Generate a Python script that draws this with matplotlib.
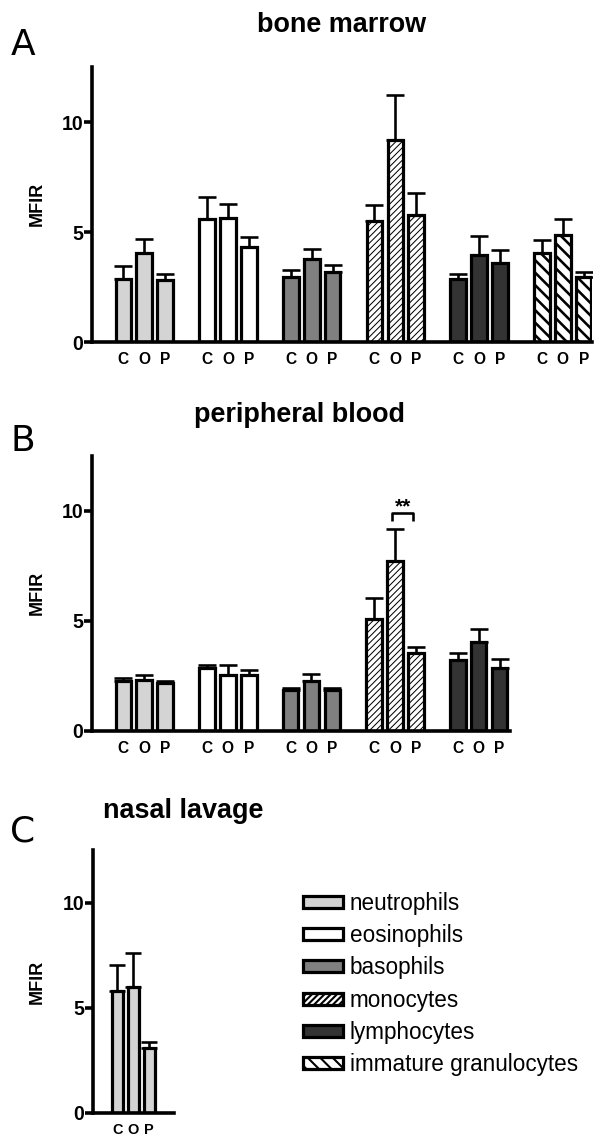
import matplotlib
matplotlib.use('Agg')
import matplotlib.pyplot as plt
from matplotlib.patches import Patch

DPI = 150
W, H = 600, 1144


def pt(px):
    return px * 72.0 / DPI


plt.rcParams['font.family'] = ['Liberation Sans', 'DejaVu Sans']
plt.rcParams['hatch.color'] = 'black'

# ---------------- data ----------------
cell_types = ['neutrophils', 'eosinophils', 'basophils', 'monocytes',
              'lymphocytes', 'immature granulocytes']
conditions = ['C', 'O', 'P']

# bone marrow (mean, upper error)
bm_mean = [[2.88, 4.05, 2.80], [5.60, 5.65, 4.30], [2.97, 3.77, 3.18],
           [5.48, 9.17, 5.76], [2.85, 3.97, 3.60], [4.05, 4.88, 2.94]]
bm_err = [[0.57, 0.63, 0.28], [1.00, 0.64, 0.47], [0.32, 0.44, 0.34],
          [0.73, 2.04, 1.03], [0.23, 0.83, 0.60], [0.60, 0.72, 0.23]]
# peripheral blood
pb_mean = [[2.29, 2.31, 2.18], [2.85, 2.56, 2.53], [1.88, 2.29, 1.88],
           [5.07, 7.71, 3.56], [3.21, 4.06, 2.85]]
pb_err = [[0.12, 0.22, 0.11], [0.14, 0.43, 0.26], [0.07, 0.32, 0.07],
          [0.98, 1.48, 0.24], [0.32, 0.58, 0.43]]
# nasal lavage (neutrophils only)
nl_mean = [[5.78, 5.98, 3.08]]
nl_err = [[1.25, 1.61, 0.30]]

face_colors = ['#d4d4d4', '#ffffff', '#808080', '#ffffff', '#333333', '#ffffff']
hatches = [None, None, None, '////////', None, '\\\\\\\\']
hatch_lw = [pt(1), pt(1), pt(1), pt(1.0), pt(1), pt(2.6)]

EDGE_LW = pt(3.2)
SPINE_LW = pt(3.6)


def make_bar(ax, x, h, w, k):
    with plt.rc_context({'hatch.linewidth': hatch_lw[k]}):
        bars = ax.bar(x, h, width=w, color=face_colors[k], edgecolor='black',
                      linewidth=EDGE_LW, hatch=hatches[k], zorder=2)
    for b in bars:
        if hasattr(b, 'set_hatch_linewidth'):
            b.set_hatch_linewidth(hatch_lw[k])
    return bars


def draw_panel(rect, means, errs, bar_w, xlim, tick_fs, cap_px):
    l, t, r, b = rect
    ax = fig.add_axes([l / W, 1 - b / H, (r - l) / W, (b - t) / H])
    xs, labels = [], []
    for g, (m, e) in enumerate(zip(means, errs)):
        pos = [g * 4 + j for j in range(3)]
        make_bar(ax, pos, m, bar_w, g)
        ax.errorbar(pos, m, yerr=[[0] * 3, e], fmt='none', ecolor='black',
                    elinewidth=pt(2.6), capsize=pt(cap_px), capthick=pt(2.6),
                    zorder=1.5)
        xs += pos
        labels += conditions
    ax.set_xlim(*xlim)
    ax.set_ylim(0, 12.5)
    for s in ['top', 'right']:
        ax.spines[s].set_visible(False)
    for s in ['left', 'bottom']:
        ax.spines[s].set_linewidth(SPINE_LW)
    ax.set_yticks([0, 5, 10])
    ax.set_yticklabels(['0', '5', '10'], fontsize=pt(19.5), fontweight='bold')
    ax.tick_params(axis='y', length=pt(8), width=SPINE_LW, pad=pt(1))
    ax.set_xticks(xs)
    ax.set_xticklabels(labels, fontsize=tick_fs, fontweight='bold')
    ax.tick_params(axis='x', length=0, pad=pt(10))
    return ax


fig = plt.figure(figsize=(W / DPI, H / DPI), dpi=DPI)

# Panel A
axA = draw_panel((92, 67, 592, 342), bm_mean, bm_err, 0.75, (-1.5, 22.4), pt(15.5), 9)
# Panel B
axB = draw_panel((92, 456, 510, 731), pb_mean, pb_err, 0.75, (-1.5, 18.5), pt(15.5), 9)
# Panel C
axC = draw_panel((93, 850, 174, 1113), nl_mean, nl_err, 0.68, (-1.5, 3.53), pt(14.5), 8)

# significance bracket in panel B (monocytes O vs P)
axB.plot([12.85, 12.85, 13.85, 13.85], [9.55, 9.9, 9.9, 9.55], color='black',
         lw=pt(2.6), solid_capstyle='butt', zorder=3, clip_on=False)
axB.text(13.38, 10.2, '**', ha='center', va='center', fontsize=pt(21),
         fontweight='bold')

# y labels
for yc in (204, 593, 982):
    fig.text(37 / W, 1 - yc / H, 'MFIR', rotation=90, ha='center', va='center',
             fontsize=pt(18), fontweight='bold')

# titles
fig.text(342 / W, 1 - 25 / H, 'bone marrow', ha='center', va='center',
         fontsize=pt(27), fontweight='bold')
fig.text(300 / W, 1 - 415 / H, 'peripheral blood', ha='center', va='center',
         fontsize=pt(27), fontweight='bold')
fig.text(183 / W, 1 - 811 / H, 'nasal lavage', ha='center', va='center',
         fontsize=pt(27), fontweight='bold')

# panel letters
for letter, yc in (('A', 45), ('B', 441), ('C', 832)):
    fig.text(23 / W, 1 - yc / H, letter, ha='center', va='center',
             fontsize=pt(36), family='DejaVu Sans')

# legend
handles = []
for k, name in enumerate(cell_types):
    with plt.rc_context({'hatch.linewidth': hatch_lw[k]}):
        p = Patch(facecolor=face_colors[k], edgecolor='black', linewidth=EDGE_LW,
                  hatch=hatches[k], label=name)
    handles.append(p)
LFS = 22.5
fig.legend(handles=handles, loc='upper left', bbox_to_anchor=(303 / W, 1 - 892 / H),
           frameon=False, fontsize=pt(LFS), handlelength=40 / LFS,
           handleheight=10 / LFS, handletextpad=0.3, labelspacing=0.41,
           borderpad=0, borderaxespad=0)

fig.savefig('out.png', dpi=DPI)
